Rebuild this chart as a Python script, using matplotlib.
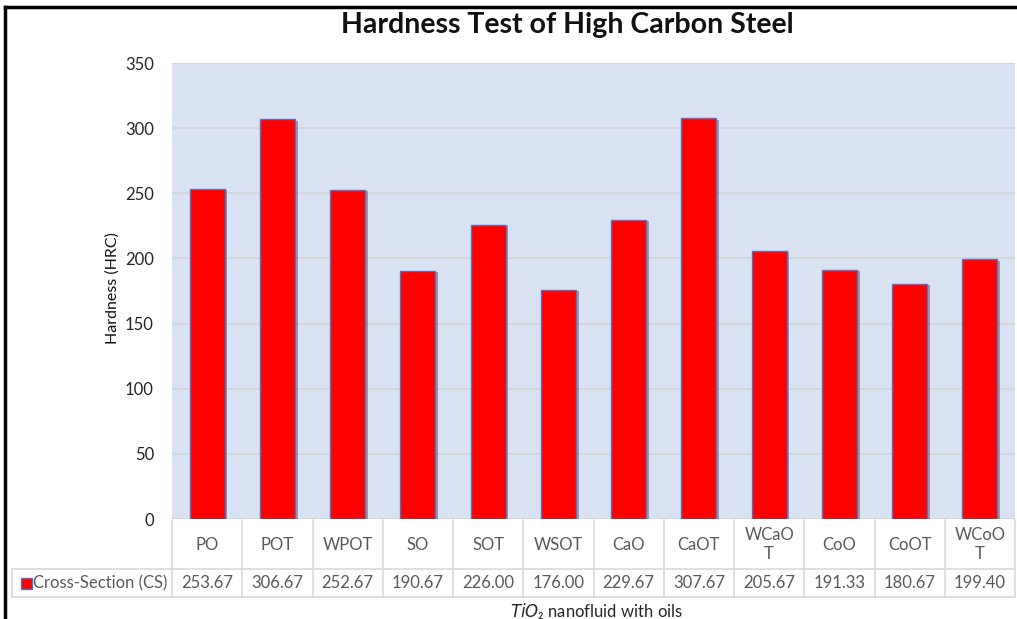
import matplotlib.pyplot as plt
import matplotlib.patheffects as pe
from matplotlib.lines import Line2D
from matplotlib.patches import Rectangle

# data
categories = ["PO", "POT", "WPOT", "SO", "SOT", "WSOT", "CaO", "CaOT",
              "WCaO\nT", "CoO", "CoOT", "WCoO\nT"]
hardness = [253.67, 306.67, 252.67, 190.67, 226.00, 176.00, 229.67, 307.67,
            205.67, 191.33, 180.67, 199.40]
series_name = "Cross-Section (CS)"
yticks = [0, 50, 100, 150, 200, 250, 300, 350]

plt.rcParams['font.family'] = ['Lato', 'DejaVu Sans']

W, H = 1017, 619
fig = plt.figure(figsize=(W / 100, H / 100), dpi=100)
ax = fig.add_axes([172 / W, 1 - 519 / H, 843 / W, 456 / H])
ax.set_facecolor('#d9e2f3')

x = list(range(len(categories)))
bars = ax.bar(x, hardness, width=0.5, color='#ff0000', edgecolor='#5572c0',
              linewidth=1.0, zorder=3)
for b in bars:
    b.set_path_effects([pe.SimplePatchShadow(offset=(2, -1), alpha=0.35), pe.Normal()])

ax.set_xlim(-0.5, len(categories) - 0.5)
ax.set_ylim(0, 350)
ax.set_yticks(yticks)
ax.set_yticklabels([str(t) for t in yticks], fontsize=12, color='#262626')
ax.tick_params(axis='y', length=0, pad=13)
ax.set_xticks([])
ax.yaxis.grid(True, color='#d4d4d4', linewidth=1.2, zorder=0)
ax.set_axisbelow(True)
for s in ax.spines.values():
    s.set_visible(False)

fig.text(113 / W, 1 - 288 / H, "Hardness (HRC)", rotation=90, ha='center',
         va='center', fontsize=11.5, color='#111111')

# data table under the axis
tr = ax.get_xaxis_transform()
y_top = -1 / 456
y_mid = -50 / 456
y_bot = -78 / 456
grid_c = '#d9d9d9'
for i in range(len(categories) + 1):
    ax.add_line(Line2D([i - 0.5, i - 0.5], [y_top, y_bot], transform=tr,
                       color=grid_c, lw=1.2, clip_on=False))
for yy in (y_mid, y_bot):
    ax.add_line(Line2D([-0.5, len(categories) - 0.5], [yy, yy], transform=tr,
                       color=grid_c, lw=1.2, clip_on=False))

for i, (c, v) in enumerate(zip(categories, hardness)):
    ax.text(i, (y_top + y_mid) / 2, c, transform=tr, ha='center', va='center',
            fontsize=12, color='#595959', linespacing=1.3, clip_on=False)
    ax.text(i, (y_mid + y_bot) / 2, f"{v:.2f}", transform=tr, ha='center',
            va='center', fontsize=12, color='#595959', clip_on=False)

# row label cell with legend key
fig.add_artist(Line2D([12 / W, 172 / W], [1 - 569 / H, 1 - 569 / H],
                      color=grid_c, lw=1.2))
fig.add_artist(Line2D([12 / W, 172 / W], [1 - 597 / H, 1 - 597 / H],
                      color=grid_c, lw=1.2))
fig.add_artist(Line2D([12 / W, 12 / W], [1 - 569 / H, 1 - 597 / H],
                      color=grid_c, lw=1.2))
fig.add_artist(Rectangle((21 / W, 1 - 589 / H), 11 / W, 11 / H,
                         facecolor='#ff0000', edgecolor='#5572c0', lw=1.0))
fig.text(33 / W, 1 - 583 / H, series_name, ha='left', va='center',
         fontsize=12, color='#595959')

fig.text(596 / W, 1 - 611 / H, r"$TiO$" + "\u2082 nanofluid with oils",
         ha='center', va='center', fontsize=12, color='#262626')

fig.text(567 / W, 1 - 25 / H, "Hardness Test of High Carbon Steel",
         ha='center', va='center', fontsize=20.5, fontweight='bold', color='#111111')

# screenshot frame
fig.add_artist(Line2D([5 / W, 1], [1 - 7 / H, 1 - 7 / H], color='black', lw=2.5))
fig.add_artist(Line2D([5 / W, 5 / W], [1 - 7 / H, 0], color='black', lw=2.5))

fig.savefig('out.png', dpi=100)
